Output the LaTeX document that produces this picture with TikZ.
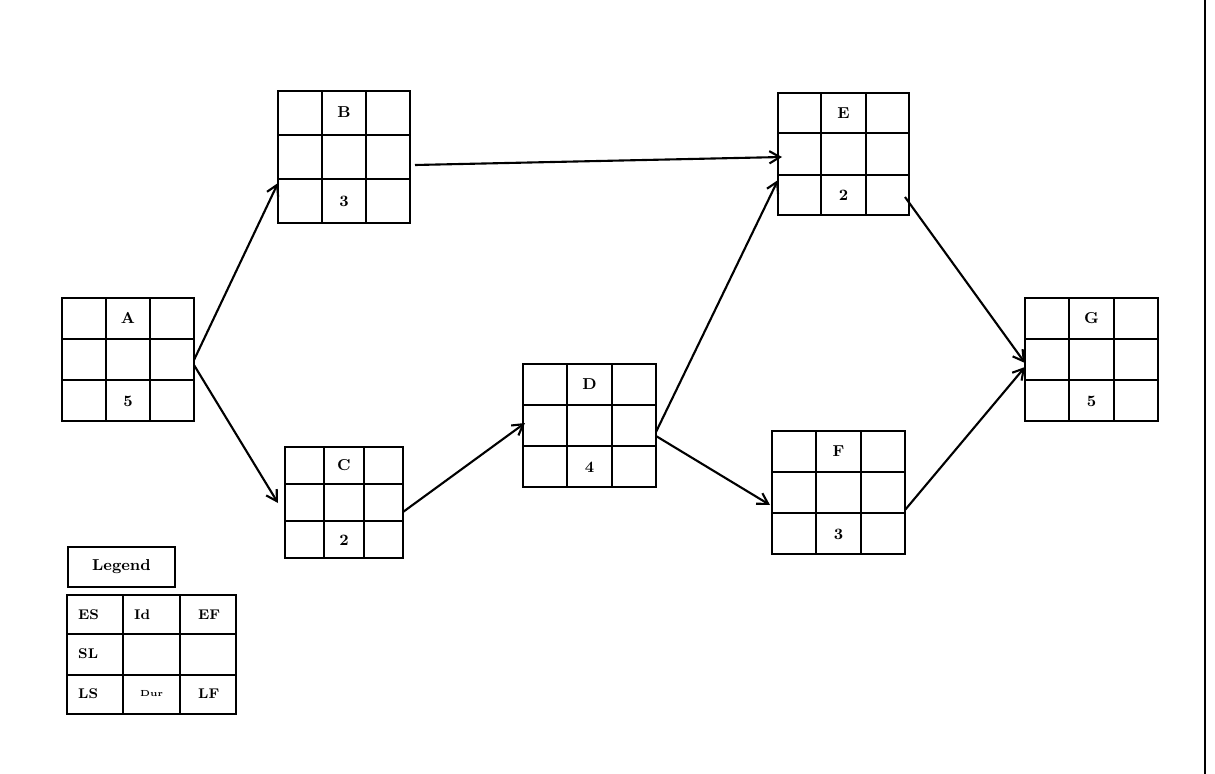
\documentclass[tikz,border=0pt]{standalone}
\usetikzlibrary{arrows.meta,calc}
\begin{document}
\begin{tikzpicture}[x=0.02cm,y=-0.02cm,
  box/.style={draw,line width=1.1pt,inner sep=0pt},
  lbl/.style={font=\small\bfseries},
  conn/.style={-{Straight Barb[length=6pt,width=7pt]},line width=1.2pt}]
\useasboundingbox (0,0) rectangle (1215,774);
\draw[line width=1pt] (1205,0) -- (1205,774);
\newcommand{\gbox}[8]{% name, x1,y1,x2,y2, top, bottom, dummy
  \node[box,minimum width=(#4-#2)*0.02cm,minimum height=(#5-#3)*0.02cm] (#1) at ({(#2+#4)/2},{(#3+#5)/2}) {};
  \foreach \f in {1,2}{
    \draw[line width=1.1pt] ($(#1.north west)!\f/3!(#1.north east)$) -- ($(#1.south west)!\f/3!(#1.south east)$);
    \draw[line width=1.1pt] ($(#1.north west)!\f/3!(#1.south west)$) -- ($(#1.north east)!\f/3!(#1.south east)$);}
  \node[lbl] at ($(#1.north)!1/6!(#1.south)$) {#6};
  \node[lbl] at ($(#1.north)!5/6!(#1.south)$) {#7};
}
\gbox{A}{62}{298}{194}{421}{A}{5}{}
\gbox{B}{278}{91}{410}{223}{B}{3}{}
\gbox{C}{285}{447}{403}{558}{C}{2}{}
\gbox{D}{523}{364}{656}{487}{D}{4}{}
\gbox{E}{778}{93}{909}{215}{E}{2}{}
\gbox{F}{772}{431}{905}{554}{F}{3}{}
\gbox{G}{1025}{298}{1158}{421}{G}{5}{}
% arrows
\coordinate (a1) at (194,360);
\coordinate (a2) at (194,365);
\coordinate (d1) at (656,432);
\coordinate (d2) at (656,436);
\coordinate (g1) at (1025,363);
\coordinate (g2) at (1025,367);
\draw[conn] (a1) -- (278,183);
\draw[conn] (a2) -- (278,503);
\draw[conn] (415,165) -- (782,157);
\draw[conn] (403,512) -- (525,423);
\draw[conn] (d1) -- (778,180);
\draw[conn] (d2) -- (770,505);
\draw[conn] (905,197) -- (g1);
\draw[conn] (905,510) -- (g2);
% legend
\node[box,minimum width=107*0.02cm,minimum height=40*0.02cm,font=\small\bfseries] (leg) at (121.5,567) {Legend};
\node[box,minimum width=169*0.02cm,minimum height=119*0.02cm] (L) at (151.5,654.5) {};
\foreach \f in {1,2}{
  \draw[line width=1.1pt] ($(L.north west)!\f/3!(L.north east)$) -- ($(L.south west)!\f/3!(L.south east)$);
  \draw[line width=1.1pt] ($(L.north west)!\f/3!(L.south west)$) -- ($(L.north east)!\f/3!(L.south east)$);}
\begin{scope}[every node/.style={font=\footnotesize\bfseries,anchor=west}]
\node at (72,615) {ES}; \node at (128,615) {Id}; \node at (192,615) {EF};
\node at (72,654) {SL};
\node at (72,694) {LS}; \node[font=\tiny\bfseries] at (134,694) {Dur}; \node at (192,694) {LF};
\end{scope}
\end{tikzpicture}
\end{document}
